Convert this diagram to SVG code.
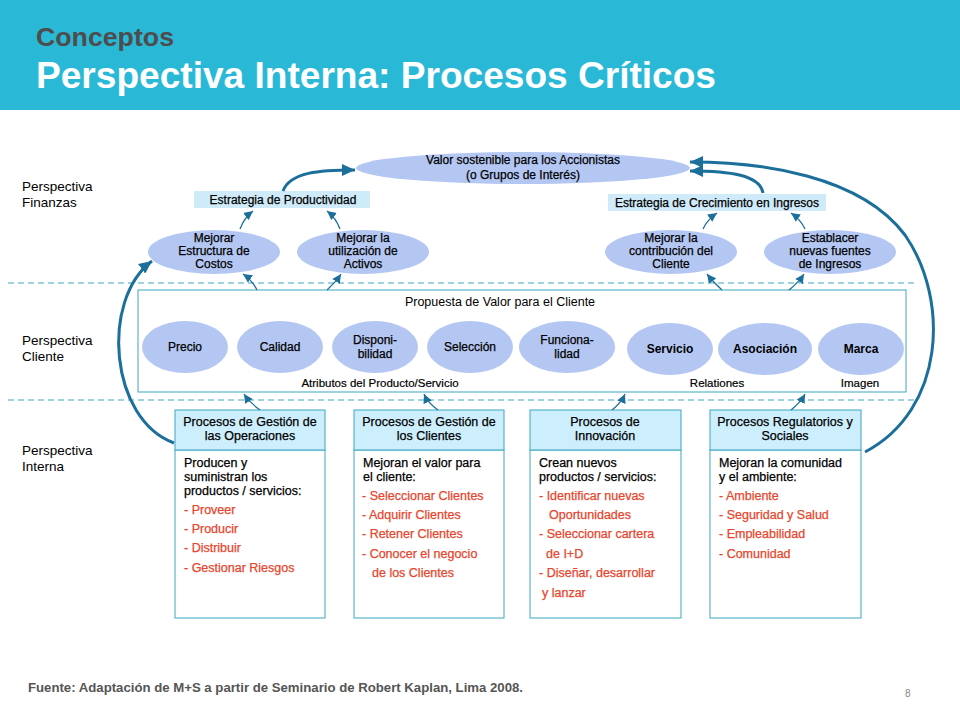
<svg xmlns="http://www.w3.org/2000/svg" width="960" height="720" viewBox="0 0 960 720">
<defs>
<style>
text{font-family:"Liberation Sans",Arial,sans-serif;fill:#000}
.lab{font-size:13.5px}
.b{font-size:12px;stroke:#000;stroke-width:0.25}
.bb{font-size:12px;font-weight:bold}
.t{font-size:12.5px;stroke:#000;stroke-width:0.25}
.s{font-size:11.5px;stroke:#000;stroke-width:0.2}
.c{text-anchor:middle}
.ell{fill:#b4c7f2}
.strat{fill:#cfeaf9}
.hd{fill:#cdeefc;stroke:#3aa7c0;stroke-width:1}
.bx{fill:#fff;stroke:#3aa7c0;stroke-width:1}
.t.red{fill:#e8452c;stroke:#e8452c}
.thin{fill:none;stroke:#1b6f9a;stroke-width:1.3}
.thick{fill:none;stroke:#1b6f9a;stroke-width:3}
.dash{stroke:#3aa7c0;stroke-width:1;stroke-dasharray:6,4}
</style>
<marker id="ah" markerUnits="userSpaceOnUse" markerWidth="10" markerHeight="10" refX="9" refY="5" orient="auto"><path d="M0,0.5 L9,5 L0,9.5 Z" fill="#1b6f9a"/></marker>
<marker id="ahb" markerUnits="userSpaceOnUse" markerWidth="14" markerHeight="12" refX="13" refY="6" orient="auto"><path d="M0,0 L13,6 L0,12 Z" fill="#1b6f9a"/></marker>
</defs>
<rect width="960" height="720" fill="#fff"/>
<g id="header">
<rect x="0" y="0" width="960" height="110" fill="#29b9d7"/>
<text x="36" y="46" textLength="138" lengthAdjust="spacingAndGlyphs" style="font-size:26px;font-weight:bold;fill:#4d4d4d">Conceptos</text>
<text x="36" y="88" textLength="680" lengthAdjust="spacingAndGlyphs" style="font-size:36px;font-weight:bold;fill:#fff">Perspectiva Interna: Procesos Críticos</text>
</g>
<g id="dividers">
<line class="dash" x1="8" y1="283" x2="915" y2="283"/>
<line class="dash" x1="8" y1="400" x2="915" y2="400"/>
</g>
<g id="perspective-labels">
<text class="lab" x="22" y="191">Perspectiva</text><text class="lab" x="22" y="207">Finanzas</text>
<text class="lab" x="22" y="345">Perspectiva</text><text class="lab" x="22" y="361">Cliente</text>
<text class="lab" x="22" y="455">Perspectiva</text><text class="lab" x="22" y="471">Interna</text>
</g>
<g id="valor-accionistas">
<ellipse class="ell" cx="523" cy="168" rx="167" ry="16"/>
<text class="b c" x="523" y="164">Valor sostenible para los Accionistas</text>
<text class="b c" x="523" y="179">(o Grupos de Interés)</text>
</g>
<g id="estrategia-productividad">
<rect class="strat" x="194" y="191" width="176" height="17"/>
<text class="b c" x="283" y="204">Estrategia de Productividad</text>
</g>
<g id="estrategia-crecimiento">
<rect class="strat" x="608" y="194" width="218" height="17"/>
<text class="b c" x="717" y="207">Estrategia de Crecimiento en Ingresos</text>
</g>
<g id="mejorar-costos">
<ellipse class="ell" cx="214" cy="252" rx="66" ry="22"/>
<text class="b c" x="214" y="242">Mejorar</text><text class="b c" x="214" y="255">Estructura de</text><text class="b c" x="214" y="268">Costos</text>
</g>
<g id="mejorar-activos">
<ellipse class="ell" cx="363" cy="252" rx="66" ry="22"/>
<text class="b c" x="363" y="242">Mejorar la</text><text class="b c" x="363" y="255">utilización de</text><text class="b c" x="363" y="268">Activos</text>
</g>
<g id="mejorar-contribucion">
<ellipse class="ell" cx="671" cy="252" rx="66" ry="22"/>
<text class="b c" x="671" y="242">Mejorar la</text><text class="b c" x="671" y="255">contribución del</text><text class="b c" x="671" y="268">Cliente</text>
</g>
<g id="nuevas-fuentes">
<ellipse class="ell" cx="830" cy="252" rx="66" ry="22"/>
<text class="b c" x="830" y="242">Establacer</text><text class="b c" x="830" y="255">nuevas fuentes</text><text class="b c" x="830" y="268">de Ingresos</text>
</g>
<g id="propuesta-valor">
<rect x="138" y="290" width="768" height="102" fill="#fff" stroke="#3aa7c0" stroke-width="1"/>
<text class="c" x="500" y="306" style="font-size:12.5px">Propuesta de Valor para el Cliente</text>
<text class="s c" x="380" y="387">Atributos del Producto/Servicio</text>
<text class="s c" x="717" y="387">Relationes</text>
<text class="s c" x="860" y="387">Imagen</text>
</g>
<g id="precio"><ellipse class="ell" cx="185" cy="347" rx="43" ry="26"/><text class="b c" x="185" y="351">Precio</text></g>
<g id="calidad"><ellipse class="ell" cx="280" cy="347" rx="43" ry="26"/><text class="b c" x="280" y="351">Calidad</text></g>
<g id="disponibilidad"><ellipse class="ell" cx="375" cy="347" rx="43" ry="26"/><text class="b c" x="375" y="344">Disponi-</text><text class="b c" x="375" y="358">bilidad</text></g>
<g id="seleccion"><ellipse class="ell" cx="470" cy="347" rx="43" ry="26"/><text class="b c" x="470" y="351">Selección</text></g>
<g id="funcionalidad"><ellipse class="ell" cx="567" cy="347" rx="48" ry="26"/><text class="b c" x="567" y="344">Funciona-</text><text class="b c" x="567" y="358">lidad</text></g>
<g id="servicio"><ellipse class="ell" cx="670" cy="349" rx="43" ry="26"/><text class="bb c" x="670" y="353">Servicio</text></g>
<g id="asociacion"><ellipse class="ell" cx="765" cy="349" rx="47" ry="26"/><text class="bb c" x="765" y="353">Asociación</text></g>
<g id="marca"><ellipse class="ell" cx="861" cy="349" rx="43" ry="26"/><text class="bb c" x="861" y="353">Marca</text></g>
<g id="proc-operaciones">
<rect class="bx" x="175" y="450" width="150" height="168"/>
<rect class="hd" x="175" y="410" width="150" height="40"/>
<text class="t c" x="250" y="426">Procesos de Gestión de</text><text class="t c" x="250" y="440">las Operaciones</text>
<text class="t" x="184" y="467">Producen y</text><text class="t" x="184" y="481">suministran los</text><text class="t" x="184" y="495">productos / servicios:</text>
<text class="t red" x="184" y="514">- Proveer</text><text class="t red" x="184" y="533">- Producir</text><text class="t red" x="184" y="552">- Distribuir</text><text class="t red" x="184" y="572">- Gestionar Riesgos</text>
</g>
<g id="proc-clientes">
<rect class="bx" x="354" y="450" width="150" height="168"/>
<rect class="hd" x="354" y="410" width="150" height="40"/>
<text class="t c" x="429" y="426">Procesos de Gestión de</text><text class="t c" x="429" y="440">los Clientes</text>
<text class="t" x="363" y="467">Mejoran el valor para</text><text class="t" x="363" y="481">el cliente:</text>
<text class="t red" x="362" y="500">- Seleccionar Clientes</text><text class="t red" x="362" y="519">- Adquirir Clientes</text><text class="t red" x="362" y="538">- Retener Clientes</text><text class="t red" x="362" y="558">- Conocer el negocio</text><text class="t red" x="372" y="577">de los Clientes</text>
</g>
<g id="proc-innovacion">
<rect class="bx" x="530" y="450" width="151" height="168"/>
<rect class="hd" x="530" y="410" width="151" height="40"/>
<text class="t c" x="605" y="426">Procesos de</text><text class="t c" x="605" y="440">Innovación</text>
<text class="t" x="539" y="467">Crean nuevos</text><text class="t" x="539" y="481">productos / servicios:</text>
<text class="t red" x="539" y="500">- Identificar nuevas</text><text class="t red" x="549" y="519">Oportunidades</text><text class="t red" x="539" y="538">- Seleccionar cartera</text><text class="t red" x="546" y="558">de I+D</text><text class="t red" x="539" y="577">- Diseñar, desarrollar</text><text class="t red" x="542" y="597">y lanzar</text>
</g>
<g id="proc-regulatorios">
<rect class="bx" x="710" y="450" width="151" height="168"/>
<rect class="hd" x="710" y="410" width="151" height="40"/>
<text class="t c" x="785" y="426">Procesos Regulatorios y</text><text class="t c" x="785" y="440">Sociales</text>
<text class="t" x="719" y="467">Mejoran la comunidad</text><text class="t" x="719" y="481">y el ambiente:</text>
<text class="t red" x="719" y="500">- Ambiente</text><text class="t red" x="719" y="519">- Seguridad y Salud</text><text class="t red" x="719" y="538">- Empleabilidad</text><text class="t red" x="719" y="558">- Comunidad</text>
</g>
<g id="connectors">
<path class="thin" marker-end="url(#ah)" d="M240,229 Q244,218 253,211"/>
<path class="thin" marker-end="url(#ah)" d="M340,229 Q336,218 327,211"/>
<path class="thin" marker-end="url(#ah)" d="M703,229 Q707,220 717,213"/>
<path class="thin" marker-end="url(#ah)" d="M805,229 Q801,220 791,213"/>
<path class="thin" marker-end="url(#ah)" d="M257,290 Q252,280 243,274"/>
<path class="thin" marker-end="url(#ah)" d="M327,290 Q335,283 341,274"/>
<path class="thin" marker-end="url(#ah)" d="M722,290 Q714,283 707,274"/>
<path class="thin" marker-end="url(#ah)" d="M789,290 Q798,283 804,274"/>
<path class="thin" marker-end="url(#ah)" d="M260,410 Q250,403 244,394"/>
<path class="thin" marker-end="url(#ah)" d="M438,410 Q428,403 424,394"/>
<path class="thin" marker-end="url(#ah)" d="M612,410 Q621,403 625,394"/>
<path class="thin" marker-end="url(#ah)" d="M791,410 Q800,403 805,394"/>
<path class="thick" marker-end="url(#ahb)" d="M283,191 C290,172 320,170 355,170"/>
<path class="thick" marker-end="url(#ahb)" d="M763,193 C760,175 730,171 690,171"/>
<path class="thick" marker-end="url(#ahb)" d="M865,452 C945,410 950,300 905,235 C860,175 760,162 690,162"/>
<path class="thick" marker-end="url(#ahb)" d="M174,443 C110,420 100,300 152,261"/>
</g>
<g id="footer">
<text x="28" y="692" textLength="495" lengthAdjust="spacingAndGlyphs" style="font-size:12px;font-weight:bold;fill:#555">Fuente: Adaptación de M+S a partir de Seminario de Robert Kaplan, Lima 2008.</text>
<text x="905" y="697" style="font-size:10px;fill:#888">8</text>
</g>
</svg>
